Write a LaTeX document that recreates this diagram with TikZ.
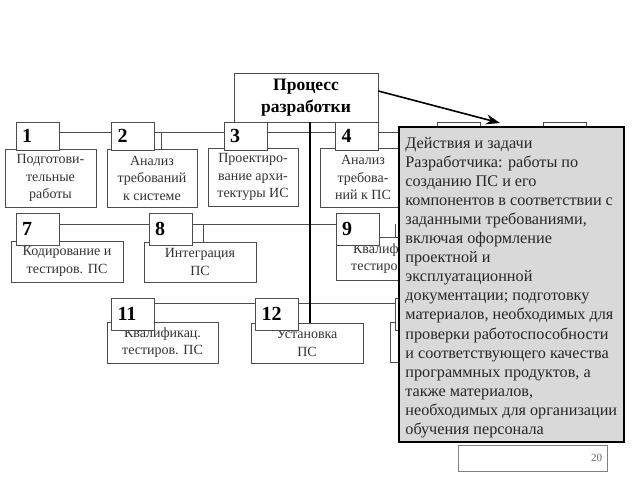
\documentclass[tikz,border=0pt]{standalone}
\usepackage{fontspec}
\setmainfont{Liberation Serif}
\usetikzlibrary{arrows.meta}
\begin{document}
\begin{tikzpicture}[x=1pt,y=-1pt,
  numbox/.style={draw=black!70, fill=white, line width=0.8pt, minimum height=28pt,
    inner xsep=6pt, inner ysep=0pt, text width=31pt, align=left,
    font=\bfseries\fontsize{20}{20}\selectfont},
  textbox/.style={draw=black!70, fill=white, line width=0.8pt, inner sep=0pt,
    align=center, text=black!80, font=\fontsize{14}{17.5}\selectfont},
  link/.style={draw=black!70, line width=0.8pt}]
  \useasboundingbox (0,0) rectangle (640,480);
  \coordinate (r1) at (0,132);
  \coordinate (r2) at (0,224);
  \coordinate (r3) at (0,303);

  \node[draw=black!70, fill=white, line width=0.8pt, minimum width=144pt, minimum height=49pt,
    inner sep=0pt, align=center, font=\bfseries\fontsize{17.5}{21.5}\selectfont]
    (proc) at (306,97.5) {Процесс\\разработки};

  \node[textbox, minimum width=91pt, minimum height=58pt] (t1) at (50.5,178) {Подготови-\\тельные\\работы};
  \node[textbox, minimum width=90pt, minimum height=58pt] (t2) at (152,178) {Анализ\\требований\\к системе};
  \node[textbox, minimum width=90pt, minimum height=58pt] (t3) at (253,177) {Проектиро-\\вание архи-\\тектуры ИС};
  \node[textbox, minimum width=86pt, minimum height=59pt] (t4) at (363,177.5) {Анализ\\требова-\\ний к ПС};
  \node[textbox, minimum width=112pt, minimum height=41pt] (t7) at (67,261.5) {Кодирование и\\тестиров. ПС};
  \node[textbox, minimum width=112pt, minimum height=40pt] (t8) at (200,262) {Интеграция\\ПС};
  \node[textbox, minimum width=111pt, minimum height=43pt] (t9) at (391.5,258.5) {Квалификац.\\тестиров. ПС};
  \node[textbox, minimum width=111pt, minimum height=41pt] (t11) at (162.5,342.5) {Квалификац.\\тестиров. ПС};
  \node[textbox, minimum width=112pt, minimum height=40pt] (t12) at (307,343) {Установка\\ПС};
  \node[textbox, minimum width=110pt, minimum height=40pt] (t13) at (445,342) {};

  \node[numbox] (n1) at (37.5,136) {1};
  \node[numbox] (n2) at (133,136) {2};
  \node[numbox] (n3) at (245.5,136) {3};
  \node[numbox] (n4) at (357,136) {4};
  \node[numbox] (n5) at (458.5,136) {};
  \node[numbox] (n6) at (565,136) {};
  \node[numbox, minimum height=32pt] (n7) at (37.5,229) {7};
  \node[numbox, minimum height=32pt] (n8) at (170.5,229) {8};
  \node[numbox, minimum height=32pt] (n9) at (357.5,229) {9};
  \node[numbox, minimum height=32pt] (n11) at (133,314) {11};
  \node[numbox, minimum height=32pt] (n12) at (277,314) {12};
  \node[numbox, minimum height=32pt] (n13) at (416.5,314) {};

  \draw[link] (n1.east |- r1) -- (n2.west |- r1);
  \draw[link] (n2.east |- r1) -- (n3.west |- r1);
  \draw[link] (n3.east |- r1) -- (n4.west |- r1);
  \draw[link] (n4.east |- r1) -- (n5.west |- r1);
  \draw[link] (n5.east |- r1) -- (n6.west |- r1);
  \draw[link] (n7.east |- r2) -- (n8.west |- r2);
  \draw[link] (n8.east |- r2) -- (n9.west |- r2);
  \draw[link] (n11.east |- r3) -- (n12.west |- r3);
  \draw[link] (n12.east |- r3) -- (n13.west |- r3);
  \draw[link] ([xshift=6pt]n2.east |- r1) -- ([xshift=6pt]n2.east |- t2.north);
  \draw[link] ([xshift=11pt]n8.east |- r2) -- ([xshift=11pt]n8.east |- t8.north);
  \draw[link] ([xshift=16pt]n9.east |- r2) -- ([xshift=16pt]n9.east |- t9.north);

  \draw[line width=1.3pt] ([xshift=4pt]proc.south) -- ([xshift=4pt]proc.south |- t12.north);
  \coordinate (tip) at (500,123);
  \draw[line width=1.6pt, -{Stealth[length=14pt,width=10pt]}] ([yshift=6.5pt]proc.east) -- (tip);

  \node[draw=black, fill=black!15, line width=2.6pt, minimum width=225pt, minimum height=315pt,
    inner sep=0pt] (panel) at (511.5,284.5) {};
  \node[anchor=west, align=left, inner sep=0pt, text=black!85,
    font=\fontsize{16.2}{19.1}\selectfont] (desc) at ([xshift=7.5pt,yshift=-3pt]panel.west)
    {Действия и задачи\\Разработчика: работы по\\созданию ПС и его\\компонентов в соответствии с\\заданными требованиями,\\включая оформление\\проектной и\\эксплуатационной\\документации; подготовку\\материалов, необходимых для\\проверки работоспособности\\и соответствующего качества\\программных продуктов, а\\также материалов,\\необходимых для организации\\обучения персонала};

  \node[draw=black!50, line width=0.8pt, minimum width=149pt, minimum height=26pt,
    inner xsep=5pt, text width=139pt, align=right, text=black!60,
    font=\fontsize{11}{11}\selectfont] (page) at (532.5,458) {20};
\end{tikzpicture}
\end{document}
